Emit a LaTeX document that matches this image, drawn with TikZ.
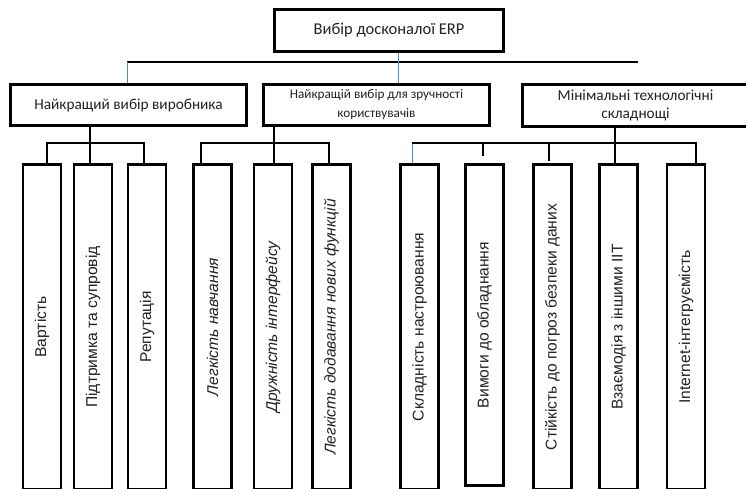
\documentclass[tikz,border=0pt]{standalone}
\usepackage{fontspec}
\usepackage{graphicx}
\setmainfont{Carlito}
\newfontfamily\leaffont{Liberation Sans}
\usetikzlibrary{positioning}
\definecolor{linkblue}{RGB}{86,135,196}
\definecolor{inkgray}{RGB}{35,35,35}
\tikzset{
  box/.style={draw, line width=2.6pt, inner sep=0pt, align=center, text=inkgray},
  headbox/.style={box, minimum width=229pt, minimum height=42pt, font=\fontsize{16.5}{18}\selectfont},
  critbox/.style={box, minimum height=41pt, font=\fontsize{15.3}{18}\selectfont},
  leafbox/.style={box, minimum width=38pt, minimum height=325pt, font=\leaffont\fontsize{15.6}{17}\selectfont},
  link/.style={line width=2pt},
  bluelink/.style={line width=1pt, draw=linkblue},
}
\newcommand{\up}[1]{\rotatebox{90}{#1}}
\begin{document}
\begin{tikzpicture}[x=1pt, y=-1pt]
  % page frame
  \clip (0,0) rectangle (746,488);
  \fill[white] (0,0) rectangle (746,488);

  % Goal and criteria
  \node[headbox] (root) at (389,30.5) {\raisebox{3pt}{Вибір досконалої ERP}};
  \node[critbox, minimum width=236pt] (crit1) at (128.5,105) {Найкращий вибір виробника};
  \node[critbox, minimum width=226pt, font=\fontsize{13.2}{19}\selectfont] (crit2) at (376.5,105)
    {Найкращій вибір для зручності\\користвувачів};
  \node[critbox, minimum width=226pt, minimum height=42pt, font=\fontsize{15.3}{18}\selectfont] (crit3) at (635.5,105.5)
    {Мінімальні технологічні\\складнощі};

  % Leaves of the first criterion
  \node[leafbox] (vart)  at (42,327)  {\up{Вартість}};
  \node[leafbox] (pidtr) at (93,327)  {\up{Підтримка та супровід}};
  \node[leafbox] (rep)   at (147,327) {\up{Репутація}};

  % Leaves of the second criterion
  \node[leafbox] (lnav)  at (212.5,327) {\up{\itshape Легкість навчання}};
  \node[leafbox] (druzh) at (273,327)   {\up{\itshape Дружність інтерфейсу}};
  \node[leafbox] (ldod)  at (331.5,327) {\up{\itshape Легкість додавання нових функцій}};

  % Leaves of the third criterion
  \node[leafbox] (sklad) at (419.5,327) {\up{Складність настроювання}};
  \node[leafbox, minimum height=321.4pt] (vymog) at (484.5,325) {\up{Вимоги до обладнання}};
  \node[leafbox] (stiik) at (552.5,327) {\up{Стійкість до погроз безпеки даних}};
  \node[leafbox] (vzaem) at (618.5,327) {\up{Взаємодія з іншими ІІТ}};
  \node[leafbox] (inet)  at (686,327)   {\up{Internet-інтегруємість}};

  % Upper bus
  \coordinate (topbus) at (127,62);
  \coordinate (topbusR) at (638,62);
  \coordinate (stem) at (398,62);
  \draw[link] (topbus) -- (topbusR);
  \draw[bluelink] (topbus) -- (topbus |- crit1.north);
  \draw[bluelink] (stem |- root.south) -- (stem |- crit2.north);

  % Lower buses
  \coordinate (gbus) at (0,143);
  \draw[link] ([xshift=5]vart.north) |- ([xshift=-3]rep.north |- gbus) -- ([xshift=-3]rep.north);
  \draw[link] ([xshift=-3]pidtr.north) -- ([xshift=-3]pidtr.north |- crit1.south);

  \draw[link] ([xshift=-11.5]lnav.north) |- ([xshift=-2.5]ldod.north |- gbus) -- ([xshift=-2.5]ldod.north);
  \draw[link] ([xshift=1]druzh.north) -- ([xshift=1]druzh.north |- crit2.south);

  \draw[bluelink] ([xshift=-7.5]sklad.north) -- ([xshift=-7.5]sklad.north |- gbus);
  \draw[link] ([xshift=-7.5]sklad.north |- gbus) -| ([xshift=10]inet.north);
  \draw[link] ([xshift=-3.5]vzaem.north) -- ([xshift=-3.5]vzaem.north |- crit3.south);
  \draw[link, shorten >=7] ([xshift=-1.5]vymog.north |- gbus) -- ([xshift=-1.5]vymog.north);
  \draw[link, shorten >=2] ([xshift=-3.5]stiik.north |- gbus) -- ([xshift=-3.5]stiik.north);
\end{tikzpicture}
\end{document}
